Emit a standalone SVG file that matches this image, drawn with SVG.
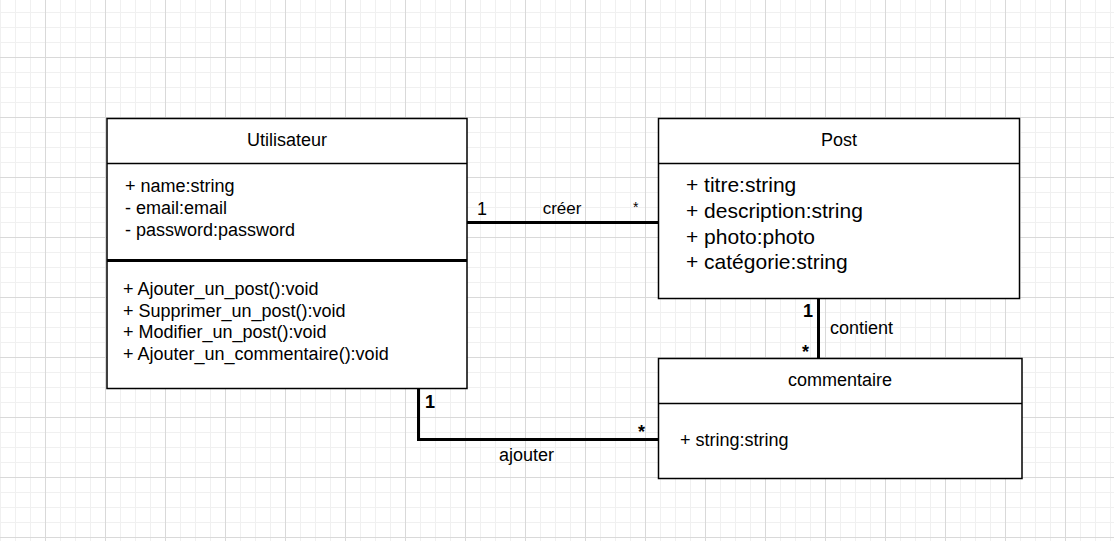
<svg xmlns="http://www.w3.org/2000/svg" width="1114" height="541" viewBox="0 0 1114 541">
<defs>
<pattern id="grid" x="45" y="57" width="60" height="60" patternUnits="userSpaceOnUse">
<path d="M15.5 0V60M30.5 0V60M45.5 0V60M0 15.5H60M0 30.5H60M0 45.5H60" stroke="#f0f0f0" stroke-width="1" fill="none"/>
<path d="M0.5 0V60M0 0.5H60" stroke="#d9d9d9" stroke-width="1" fill="none"/>
</pattern>
<style>
.box{fill:#ffffff;stroke:#000000;stroke-width:1.5}
.sep{stroke:#000000;stroke-width:1.5}
.thick{stroke:#000000;stroke-width:3}
.t{font-family:"Liberation Sans",Arial,sans-serif;font-size:18px;fill:#000000}
.c{text-anchor:middle}
.big{font-size:21px}
.b{font-weight:bold}
.conn{fill:none;stroke:#000000;stroke-width:3}
</style>
</defs>
<rect x="0" y="0" width="1114" height="541" fill="#ffffff"/>
<rect x="0" y="0" width="1114" height="541" fill="url(#grid)"/>

<g id="connectors">
<path class="conn" d="M467 222.5H658"/>
<path class="conn" d="M818.5 298V358"/>
<path class="conn" d="M418.5 388V439.5H658"/>
<text class="t" x="477" y="215">1</text>
<text class="t c" x="562" y="214" style="font-size:17px">créer</text>
<text class="t" x="633" y="212" style="font-size:14px">*</text>
<text class="t b" x="803" y="317">1</text>
<text class="t b" x="802" y="358">*</text>
<text class="t" x="830" y="334">contient</text>
<text class="t b" x="425" y="408">1</text>
<text class="t b" x="638" y="438">*</text>
<text class="t" x="499" y="461">ajouter</text>
</g>

<g id="utilisateur">
<rect class="box" x="107" y="118.5" width="360" height="270"/>
<line class="sep" x1="107" y1="163.5" x2="467" y2="163.5"/>
<line class="thick" x1="107" y1="260.5" x2="467" y2="260.5"/>
<text class="t c" x="287" y="146">Utilisateur</text>
<text class="t" x="125" y="192">+ name:string</text>
<text class="t" x="125" y="214">- email:email</text>
<text class="t" x="125" y="236">- password:password</text>
<text class="t" x="123" y="295">+ Ajouter_un_post():void</text>
<text class="t" x="123" y="317">+ Supprimer_un_post():void</text>
<text class="t" x="123" y="338">+ Modifier_un_post():void</text>
<text class="t" x="123" y="360">+ Ajouter_un_commentaire():void</text>
</g>

<g id="post">
<rect class="box" x="658.5" y="118.5" width="361" height="180"/>
<line class="sep" x1="658.5" y1="163.5" x2="1019.5" y2="163.5"/>
<text class="t c" x="839" y="146">Post</text>
<text class="t big" x="686" y="192">+ titre:string</text>
<text class="t big" x="686" y="218">+ description:string</text>
<text class="t big" x="686" y="244">+ photo:photo</text>
<text class="t big" x="686" y="269">+ catégorie:string</text>
</g>

<g id="commentaire">
<rect class="box" x="658.5" y="358.5" width="363.5" height="120"/>
<line class="sep" x1="658.5" y1="403.5" x2="1022" y2="403.5"/>
<text class="t c" x="840" y="386">commentaire</text>
<text class="t" x="680" y="446">+ string:string</text>
</g>
</svg>
